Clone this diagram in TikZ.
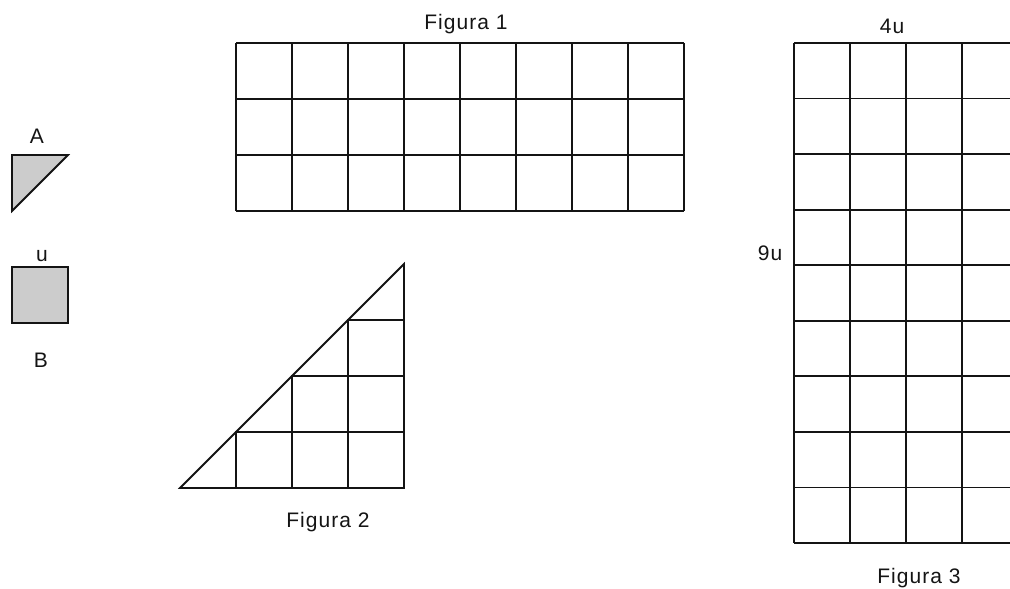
\documentclass[tikz,border=0pt]{standalone}
\usepackage{fontspec}
\setmainfont[LetterSpace=5]{Liberation Sans}
\definecolor{shade}{RGB}{204,204,204}
\definecolor{ink}{RGB}{20,20,20}
\tikzset{
  gridline/.style={draw=ink, line width=1.8pt},
  piece/.style={draw=ink, line width=1.8pt, fill=shade, line join=miter},
  lbl/.style={anchor=base, inner sep=0pt, font=\fontsize{21}{23}\selectfont, text=ink}
}
\begin{document}
\begin{tikzpicture}[x=1pt, y=-1pt]
\useasboundingbox (0,0) rectangle (1010,589);
\clip (0,0) rectangle (1010,589);
% pieces A and B
\draw[piece] (12,155) -- (68,155) -- (12,211) -- cycle;
\draw[piece] (12,267) rectangle (68,323);
\node[lbl] (labA) at (37,143) {A};
\node[lbl] (labu) at (42,261) {u};
\node[lbl] (labB) at (41,367) {B};
% Figura 1
\foreach \i in {0,...,8} \draw[gridline] (236+56*\i,43) -- (236+56*\i,211);
\foreach \j in {0,...,3} \draw[gridline] (236,43+56*\j) -- (684,43+56*\j);
\node[lbl] (f1) at (466,30) {Figura 1};
% Figura 2
\draw[gridline, line join=miter] (180,488) -- (404,488) -- (404,264) -- cycle;
\draw[gridline] (236,488) -- (236,432) -- (404,432);
\draw[gridline] (292,488) -- (292,376) -- (404,376);
\draw[gridline] (348,488) -- (348,320) -- (404,320);
\node[lbl] (f2) at (328,527) {Figura 2};
% Figura 3
\foreach \i in {0,...,4} \draw[gridline] (794+56*\i,43) -- (794+56*\i,543);
\foreach \j in {0,...,9} \draw[gridline] (794,{43+500/9*\j}) -- (1020,{43+500/9*\j});
\node[lbl] (l4u) at (892,33) {4u};
\node[lbl] (l9u) at (770,260) {9u};
\node[lbl] (f3) at (919,583) {Figura 3};
\end{tikzpicture}
\end{document}
